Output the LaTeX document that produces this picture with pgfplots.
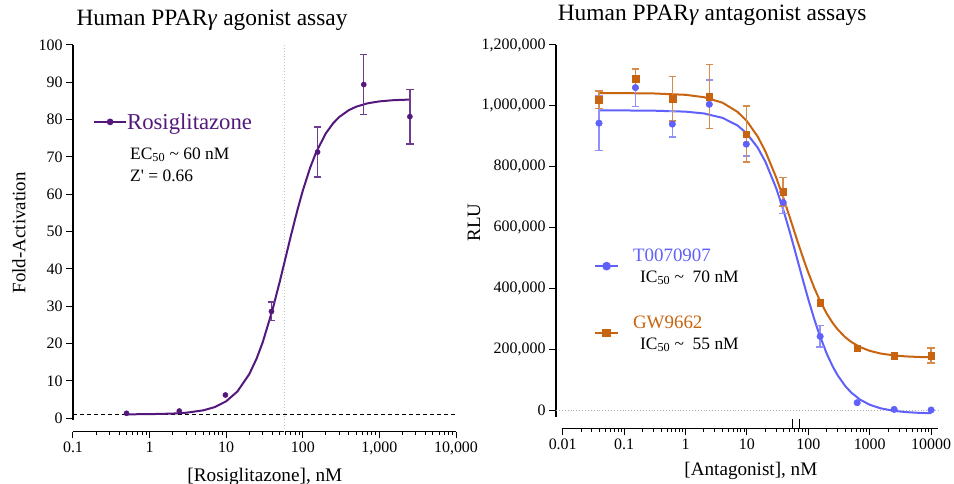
\documentclass[border=0pt]{standalone}
\usepackage{fontspec}
\setmainfont{Liberation Serif}
\usepackage{pgfplots}
\pgfplotsset{compat=1.18}

\definecolor{rosi}{RGB}{84,24,124}
\definecolor{tcol}{RGB}{96,96,250}
\definecolor{gcol}{RGB}{200,100,15}

\begin{document}
\begin{tikzpicture}
\path[use as bounding box] (0,0) rectangle (954bp,484bp);

% left: agonist
\begin{semilogxaxis}[
  scale only axis,
  axis x line*=bottom, axis y line*=left,
  axis line style={line width=1.2bp},
  tick align=outside, major tick length=7bp, minor tick length=3.5bp,
  tick style={black, line width=1bp},
  tick label style={font=\fontsize{16}{18}\selectfont},
  clip=false,
  at={(73bp,64bp)}, anchor=south west,
  width=383bp, height=375bp,
  xmin=0.1, xmax=10000, ymin=-0.5, ymax=100,
  axis x line shift=11.5bp,
  xtick={0.1,1,10,100,1000,10000},
  xticklabels={0.1,1,10,100,{1,000},{10,000}},
  minor xtick={0.2,0.3,0.4,0.5,0.6,0.7,0.8,0.9,2,3,4,5,6,7,8,9,20,30,40,50,60,70,80,90,200,300,400,500,600,700,800,900,2000,3000,4000,5000,6000,7000,8000,9000},
  ytick={0,10,20,30,40,50,60,70,80,90,100},
  yticklabels={0,10,20,30,40,50,60,70,80,90,100},
  title={Human PPAR\textit{γ} agonist assay},
  title style={at={(axis description cs:0.363,1.037)}, anchor=base, font=\fontsize{23.5}{25}\selectfont},
  xlabel={[Rosiglitazone], nM},
  xlabel style={at={(axis description cs:0.501,-0.164)}, anchor=base, font=\fontsize{19.3}{21}\selectfont},
  ylabel={Fold-Activation},
  ylabel style={at={(axis description cs:-0.141,0.499)}, anchor=center, font=\fontsize{19}{21}\selectfont},
  legend cell align=left,
  legend style={at={(axis description cs:0.052,0.795)}, anchor=west, draw=none, fill=none,
    inner sep=0pt, column sep=-2bp, font=\fontsize{22.8}{25}\selectfont},
  legend image code/.code={\draw[#1, mark=none] (0bp,0bp) -- (32bp,0bp);
    \draw[#1] plot coordinates {(16bp,0bp)};},
]
\addlegendimage{rosi, line width=2bp, mark=*, mark size=2.3bp}
\addlegendentry{\textcolor{rosi}{Rosiglitazone}}

\addplot[black, line width=1.1bp, dash pattern=on 4bp off 3bp, forget plot]
  coordinates {(0.1,1) (10000,1)};
\addplot[gray!45, line width=1bp, dotted, forget plot]
  coordinates {(57,-3.6) (57,100)};

% fitted curve
\addplot[rosi, line width=2bp, forget plot] coordinates {
  (0.5,1.02) (1,1.07) (2,1.22) (3,1.45) (5,2.08) (7,2.92) (10,4.52) (14,7.14)
  (20,11.78) (25,16.01) (30,20.36) (40,28.86) (50,36.56) (60,43.25) (70,48.92)
  (85,55.74) (100,60.97) (125,67.18) (150,71.35) (200,76.34) (250,79.07)
  (300,80.73) (400,82.55) (500,83.48) (700,84.37) (1000,84.89) (1500,85.2) (2500,85.38)
};
% points without visible error
\addplot[rosi, only marks, mark=*, mark size=2.6bp, forget plot] coordinates {
  (0.5,1.3) (2.44,1.9) (9.77,6.2)
};
% points with error bars
\addplot[rosi, only marks, mark=*, mark size=2.6bp, forget plot,
  error bars/.cd, y dir=both, y explicit,
  error bar style={rosi!85, line width=1.4bp},
  error mark options={rosi!85, line width=1.4bp, mark size=3.7bp, rotate=90}] coordinates {
  (39,28.6) +- (0,2.5)
  (156,71.3) +- (0,6.7)
  (625,89.4) +- (0,8)
  (2500,80.8) +- (0,7.3)
};
\end{semilogxaxis}

% right: antagonist
\begin{semilogxaxis}[
  scale only axis,
  axis x line*=bottom, axis y line*=left,
  axis line style={line width=1.2bp},
  tick align=outside, major tick length=7bp, minor tick length=3.5bp,
  tick style={black, line width=1bp},
  tick label style={font=\fontsize{16}{18}\selectfont},
  scaled y ticks=false,
  clip=false,
  at={(562.7bp,67.3bp)}, anchor=south west,
  width=375.6bp, height=371.7bp,
  xmin=0.01, xmax=13100, ymin=-22000, ymax=1200000,
  axis x line shift=11.6bp,
  axis y line shift=6.7bp,
  xtick={0.01,0.1,1,10,100,1000,10000},
  xticklabels={0.01,0.1,1,10,100,1000,10000},
  minor xtick={0.02,0.03,0.04,0.05,0.06,0.07,0.08,0.09,0.2,0.3,0.4,0.5,0.6,0.7,0.8,0.9,2,3,4,5,6,7,8,9,20,30,40,50,60,70,80,90,200,300,400,500,600,700,800,900,2000,3000,4000,5000,6000,7000,8000,9000},
  extra x ticks={55.7,73},
  extra x tick labels={},
  extra x tick style={tick align=inside, major tick length=9.3bp},
  ytick={0,200000,400000,600000,800000,1000000,1200000},
  yticklabels={0,{200,000},{400,000},{600,000},{800,000},{1,000,000},{1,200,000}},
  title={Human PPAR\textit{γ} antagonist assays},
  title style={at={(axis description cs:0.398,1.049)}, anchor=base, font=\fontsize{23.5}{25}\selectfont},
  xlabel={[Antagonist], nM},
  xlabel style={at={(axis description cs:0.501,-0.1595)}, anchor=base, font=\fontsize{19.2}{21}\selectfont},
  ylabel={RLU},
  ylabel style={at={(axis description cs:-0.236,0.5225)}, anchor=center, font=\fontsize{19}{21}\selectfont},
  legend cell align=left,
  legend style={at={(axis description cs:0.083,0.315)}, anchor=west, draw=none, fill=none,
    inner sep=0pt, column sep=12bp, row sep=28bp, nodes={align=left},
    font=\fontsize{17.5}{21}\selectfont},
  legend image code/.code={\draw[#1, mark=none] (0bp,0bp) -- (23bp,0bp);
    \draw[#1] plot coordinates {(11.5bp,0bp)};},
]
\addlegendimage{tcol, line width=2bp, mark=*, mark size=3.3bp}
\addlegendentry{{\fontsize{19}{21}\selectfont\textcolor{tcol}{T0070907}}\\\hspace*{7bp}IC\textsubscript{50} \textasciitilde\ \ 70 nM}
\addlegendimage{gcol, line width=2bp, mark=square*, mark size=3.3bp}
\addlegendentry{{\fontsize{19}{21}\selectfont\textcolor{gcol}{GW9662}}\\\hspace*{7bp}IC\textsubscript{50} \textasciitilde\ \ 55 nM}

\addplot[gray!60, line width=0.9bp, dotted, forget plot]
  coordinates {(0.0078,0) (13100,0)};

% fitted curves
\addplot[tcol, line width=2bp, forget plot] coordinates {
  (0.039,985000) (0.1,984800) (0.3,984100) (1,980900) (2,974900) (4,960500)
  (7,935700) (10,908800) (15,862400) (20,816300) (30,729200) (40,651900)
  (50,584900) (60,527000) (70,477100) (85,414700) (100,364100) (125,298900)
  (150,250600) (200,184800) (250,143000) (300,114400) (400,78600) (500,57300)
  (700,33900) (1000,17400) (1500,5600) (2500,-2900) (4000,-7000) (6000,-9100) (10000,-10500)
};
\addplot[gcol, line width=2bp, forget plot] coordinates {
  (0.039,1041900) (0.1,1041700) (0.3,1040700) (1,1036200) (2,1028400) (4,1010300)
  (7,980500) (10,949700) (15,898800) (20,850500) (30,764300) (40,692500)
  (50,632900) (60,583300) (70,541900) (85,491500) (100,451600) (125,401600)
  (150,365100) (200,316500) (250,285900) (300,265200) (400,239200) (500,223800)
  (700,206700) (1000,194600) (1500,185700) (2500,179300) (4000,176100) (6000,174500) (10000,173300)
};

% T0070907
\addplot[tcol, only marks, mark=*, mark size=3.3bp, forget plot,
  error bars/.cd, y dir=both, y explicit,
  error bar style={tcol!70, line width=1.4bp},
  error mark options={tcol!70, line width=1.4bp, mark size=3.7bp, rotate=90}] coordinates {
  (0.039,943000) +- (0,90000)
  (0.153,1060000) +- (0,63000)
  (0.61,940000) +- (0,43000)
  (2.44,1005000) +- (0,80000)
  (9.77,874000) +- (0,39000)
  (39,682000) +- (0,35000)
  (156,242000) +- (0,35000)
};
\addplot[tcol, only marks, mark=*, mark size=3.3bp, forget plot] coordinates {
  (625,24000) (2500,2000) (10000,0)
};

% GW9662
\addplot[gcol, only marks, mark=square*, mark size=3.4bp, forget plot,
  error bars/.cd, y dir=both, y explicit,
  error bar style={gcol!75, line width=1.4bp},
  error mark options={gcol!75, line width=1.4bp, mark size=3.7bp, rotate=90}] coordinates {
  (0.039,1020000) +- (0,29000)
  (0.153,1089000) +- (0,32000)
  (0.61,1023000) +- (0,73000)
  (2.44,1031000) +- (0,105000)
  (9.77,907000) +- (0,92000)
  (39,718000) +- (0,47000)
  (10000,179000) +- (0,25000)
};
\addplot[gcol, only marks, mark=square*, mark size=3.4bp, forget plot] coordinates {
  (156,353000) (625,203000) (2500,179000)
};
\end{semilogxaxis}

\node[anchor=base west, inner sep=0pt, font=\fontsize{17.5}{19}\selectfont] at (130bp,324.7bp)
  {EC\textsubscript{50} \textasciitilde\ 60 nM};
\node[anchor=base west, inner sep=0pt, font=\fontsize{17.5}{19}\selectfont] at (130bp,302bp)
  {Z\textquotesingle{} = 0.66};
\end{tikzpicture}
\end{document}
